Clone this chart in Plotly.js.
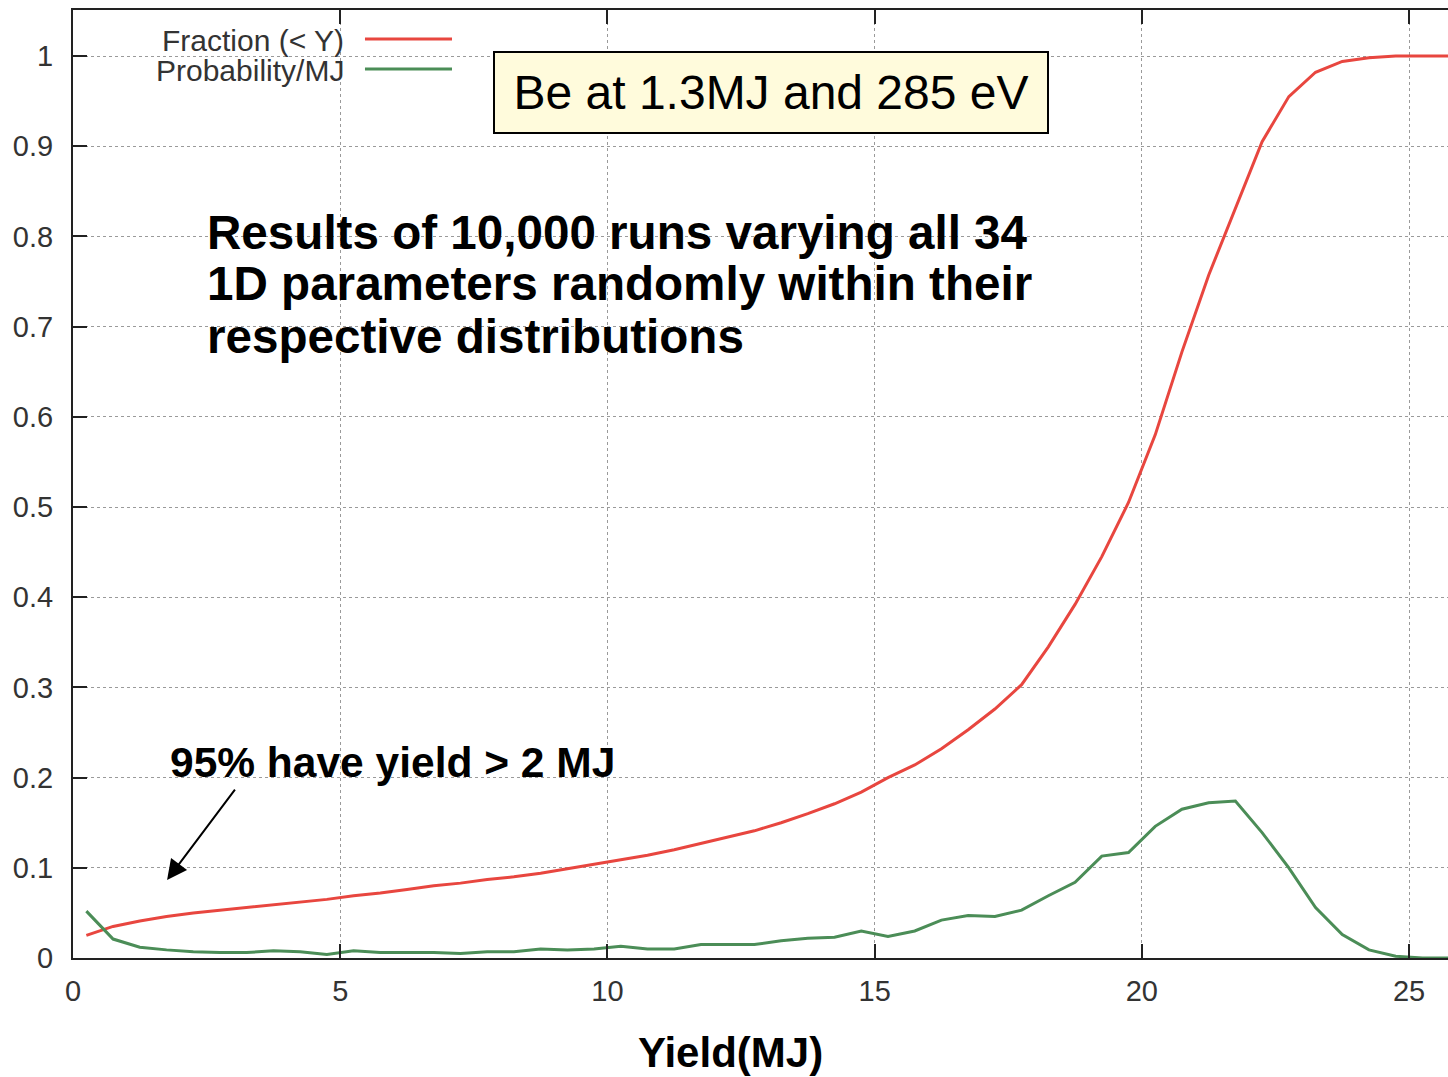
<!DOCTYPE html>
<html>
<head>
<meta charset="utf-8">
<script src="https://cdn.plot.ly/plotly-3.0.1.min.js"></script>
<style>
html,body{margin:0;padding:0;overflow:hidden;background:#fff;}
#chart{width:1470px;height:1077px;}
</style>
</head>
<body>
<div id="chart"></div>
<script>
// Yield (MJ) bin centres
const yieldMJ = [0.25,0.75,1.25,1.75,2.25,2.75,3.25,3.75,4.25,4.75,5.25,5.75,6.25,6.75,7.25,7.75,8.25,8.75,9.25,9.75,
  10.25,10.75,11.25,11.75,12.25,12.75,13.25,13.75,14.25,14.75,15.25,15.75,16.25,16.75,17.25,17.75,18.25,18.75,19.25,19.75,
  20.25,20.75,21.25,21.75,22.25,22.75,23.25,23.75,24.25,24.75,25.25,25.75];
// Fraction (< Y)
const fractionBelow = [0.025,0.035,0.041,0.046,0.050,0.053,0.056,0.059,0.062,0.065,0.069,0.072,0.076,0.080,0.083,0.087,0.090,0.094,0.099,0.104,
  0.109,0.114,0.120,0.127,0.134,0.141,0.150,0.160,0.171,0.184,0.200,0.214,0.232,0.253,0.276,0.303,0.345,0.392,0.445,0.505,
  0.580,0.672,0.757,0.830,0.905,0.955,0.982,0.994,0.998,1.0,1.0,1.0];
// Probability / MJ
const probPerMJ = [0.052,0.021,0.012,0.009,0.007,0.006,0.006,0.008,0.007,0.004,0.008,0.006,0.006,0.006,0.005,0.007,0.007,0.010,0.009,0.010,
  0.013,0.010,0.010,0.015,0.015,0.015,0.019,0.022,0.023,0.030,0.024,0.030,0.042,0.047,0.046,0.053,0.069,0.084,0.113,0.117,
  0.146,0.165,0.172,0.174,0.139,0.100,0.056,0.026,0.009,0.002,0.000,0.000];

const xTicks = [0,5,10,15,20,25];
const yTicks = [0,0.1,0.2,0.3,0.4,0.5,0.6,0.7,0.8,0.9,1];
const yTickText = ['0','0.1','0.2','0.3','0.4','0.5','0.6','0.7','0.8','0.9','1'];

const seriesNames = ['Fraction (< Y)','Probability/MJ'];
const seriesColors = ['#e8463f','#4b8d57'];

const boxText = 'Be at 1.3MJ and 285 eV';
const noteLines = ['Results of 10,000 runs varying all 34','1D parameters randomly within their','respective distributions'];
const noteLineY = [0.7658, 0.7110, 0.6561];
const arrowText = '95% have yield &gt; 2 MJ';
const xTitle = 'Yield(MJ)';

const FONT = 'Liberation Sans, Arial, Helvetica, sans-serif';

const traces = [
  {x: yieldMJ, y: fractionBelow, mode:'lines', name: seriesNames[0], line:{color:seriesColors[0], width:3}},
  {x: yieldMJ, y: probPerMJ, mode:'lines', name: seriesNames[1], line:{color:seriesColors[1], width:3}}
];

const axisCommon = {
  showline:true, linecolor:'#222', linewidth:2, mirror:'ticks',
  ticks:'inside', ticklen:14, tickwidth:2, tickcolor:'#222',
  showgrid:true, gridcolor:'#9a9a9a', gridwidth:1, griddash:'dot',
  zeroline:false, tickfont:{family:FONT, size:29, color:'#333'}
};

const annotations = [
  {xref:'paper', yref:'paper', x:0.1954, y:0.968, xanchor:'right', yanchor:'middle', showarrow:false,
   text:seriesNames[0], font:{family:FONT, size:30, color:'#333'}},
  {xref:'paper', yref:'paper', x:0.1954, y:0.936, xanchor:'right', yanchor:'middle', showarrow:false,
   text:seriesNames[1], font:{family:FONT, size:30, color:'#333'}},
  {xref:'paper', yref:'paper', x:0.4996, y:0.9125, xanchor:'center', yanchor:'middle', showarrow:false,
   text:boxText, font:{family:FONT, size:48, color:'#000'},
   bgcolor:'#fffbdc', bordercolor:'#000', borderwidth:2, borderpad:8, width:536, height:63},
  {xref:'paper', yref:'paper', x:0.068, y:0.2057, xanchor:'left', yanchor:'middle', showarrow:false,
   text:'<b>' + arrowText + '</b>', font:{family:FONT, size:42.5, color:'#000'}},
  {xref:'x', yref:'y', x:1.76, y:0.0864, ax:69, ay:-92, text:'', showarrow:true,
   arrowhead:2, arrowsize:2, arrowwidth:2, arrowcolor:'#000', standoff:0},
  {xref:'paper', yref:'paper', x:0.471, y:-0.0995, xanchor:'center', yanchor:'middle', showarrow:false,
   text:'<b>' + xTitle + '</b>', font:{family:FONT, size:42, color:'#000'}}
];
noteLines.forEach((t, i) => annotations.push(
  {xref:'paper', yref:'paper', x:0.0945, y:noteLineY[i], xanchor:'left', yanchor:'middle', showarrow:false,
   text:'<b>' + t + '</b>', font:{family:FONT, size:47.6, color:'#000'}}
));

const layout = {
  width:1470, height:1077,
  margin:{l:73, r:0, t:10, b:119},
  paper_bgcolor:'#fff', plot_bgcolor:'#fff',
  showlegend:false,
  xaxis: Object.assign({}, axisCommon, {range:[0,26.14], tickvals:xTicks, ticktext:xTicks.map(String), ticklabelstandoff:6}),
  yaxis: Object.assign({}, axisCommon, {range:[0,1.051], tickvals:yTicks, ticktext:yTickText, ticklabelstandoff:12}),
  annotations: annotations,
  shapes:[
    {type:'line', xref:'paper', yref:'paper', x0:0.209, x1:0.2713, y0:0.9694, y1:0.9694, line:{color:seriesColors[0], width:3}},
    {type:'line', xref:'paper', yref:'paper', x0:0.209, x1:0.2713, y0:0.9378, y1:0.9378, line:{color:seriesColors[1], width:3}}
  ]
};

Plotly.newPlot('chart', traces, layout, {displayModeBar:false, staticPlot:true});
</script>
</body>
</html>
